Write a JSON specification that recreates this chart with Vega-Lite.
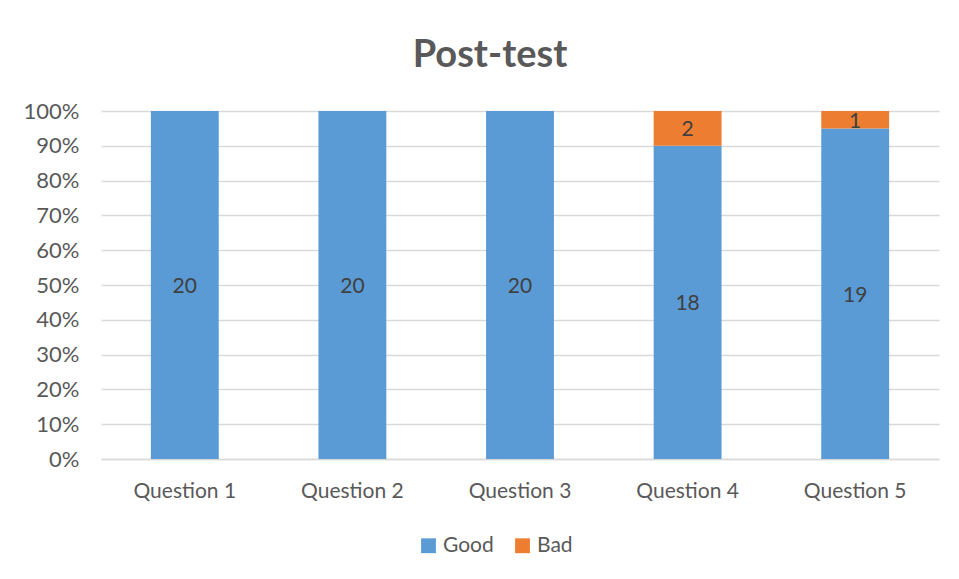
{
  "$schema": "https://vega.github.io/schema/vega-lite/v6.json",
  "width": 838,
  "height": 348,
  "padding": {"left": 23, "top": 37, "right": 20, "bottom": 10},
  "background": "white",
  "title": {"text": "Post-test", "font": "Lato", "fontSize": 38, "fontWeight": "bold", "color": "#595959", "offset": 25, "anchor": "middle", "dx": -30},
  "data": {"values": [
    {"question": "Question 1", "result": "Good", "count": 20},
    {"question": "Question 1", "result": "Bad", "count": 0},
    {"question": "Question 2", "result": "Good", "count": 20},
    {"question": "Question 2", "result": "Bad", "count": 0},
    {"question": "Question 3", "result": "Good", "count": 20},
    {"question": "Question 3", "result": "Bad", "count": 0},
    {"question": "Question 4", "result": "Good", "count": 18},
    {"question": "Question 4", "result": "Bad", "count": 2},
    {"question": "Question 5", "result": "Good", "count": 19},
    {"question": "Question 5", "result": "Bad", "count": 1}
  ]},
  "transform": [
    {"stack": "count", "groupby": ["question"], "as": ["y0", "y1"], "offset": "normalize", "sort": [{"field": "result", "order": "descending"}]},
    {"calculate": "(datum.y0 + datum.y1) / 2", "as": "mid"}
  ],
  "encoding": {
    "x": {"field": "question", "type": "nominal", "title": null,
      "scale": {"paddingInner": 0.595, "paddingOuter": 0.2975},
      "axis": {"labelAngle": 0, "labelFontSize": 21, "labelColor": "#595959", "labelFont": "Lato", "ticks": false, "domainColor": "#d9d9d9", "domainWidth": 1.5, "labelPadding": 21}}
  },
  "layer": [
    {
      "mark": {"type": "bar"},
      "encoding": {
        "y": {"field": "y0", "type": "quantitative", "title": null,
          "scale": {"domain": [0, 1]},
          "axis": {"format": ".0%", "values": [0, 0.1, 0.2, 0.3, 0.4, 0.5, 0.6, 0.7, 0.8, 0.9, 1], "labelOverlap": false, "labelFontSize": 22, "labelColor": "#595959", "labelFont": "Lato", "ticks": false, "domain": false, "gridColor": "#d9d9d9", "gridWidth": 1.5, "labelPadding": 22}},
        "y2": {"field": "y1"},
        "color": {"field": "result", "type": "nominal",
          "scale": {"domain": ["Good", "Bad"], "range": ["#5B9BD5", "#ED7D31"]},
          "legend": {"title": null, "orient": "none", "legendX": 317, "legendY": 424, "direction": "horizontal", "symbolType": "square", "symbolSize": 220, "symbolStrokeWidth": 0, "labelFontSize": 21, "labelColor": "#595959", "labelFont": "Lato", "columnPadding": 18}}
      }
    },
    {
      "transform": [{"filter": "datum.count > 0"}],
      "mark": {"type": "text", "fontSize": 21, "color": "#404040", "font": "Lato", "dy": 2},
      "encoding": {
        "y": {"field": "mid", "type": "quantitative", "title": null,
          "scale": {"domain": [0, 1]},
          "axis": {"format": ".0%", "values": [0, 0.1, 0.2, 0.3, 0.4, 0.5, 0.6, 0.7, 0.8, 0.9, 1], "labelOverlap": false, "labelFontSize": 22, "labelColor": "#595959", "labelFont": "Lato", "ticks": false, "domain": false, "gridColor": "#d9d9d9", "gridWidth": 1.5, "labelPadding": 22}},
        "text": {"field": "count", "type": "quantitative"}
      }
    }
  ],
  "config": {"view": {"stroke": null}, "font": "Lato"}
}
